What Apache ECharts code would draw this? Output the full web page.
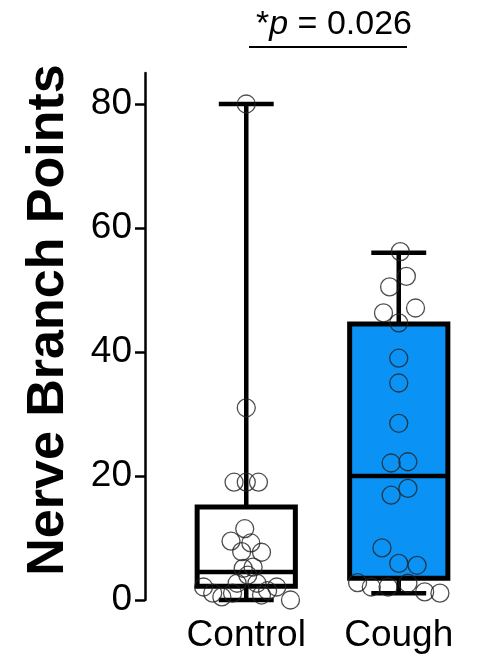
<!DOCTYPE html>
<html lang='en'>
<head>
  <meta charset='UTF-8'>
  <title>Nerve Branch Points</title>
  <script src="https://cdn.jsdelivr.net/npm/echarts@6/dist/echarts.min.js"></script>
  <style>
    html, body { margin: 0; padding: 0; background: #fff; }
  </style>
</head>
<body>
<div id="main" style="width: 482px; height: 663px;"></div>
<script>
  const groups = ['Control', 'Cough']
  // [min, Q1, median, Q3, max]
  const controlBox = [0, 2.2, 4.5, 15, 80]
  const coughBox = [1.1, 3.5, 20, 44.5, 56]
  const boxColors = ['#ffffff', '#0a93f5']

  // individual points and their horizontal jitter (in category widths)
  const controlPoints = [80, 31, 19, 19, 19, 11.5, 9.5, 9.2, 7.8, 7.7, 5.1, 5.3, 4, 2.7, 2.7, 2.1, 1.1, 0.5, 1.1, 0.8, 1.5, 2.1, 0]
  const controlJitter = [0, 0, -0.08, 0, 0.08, -0.01, -0.1, 0.03, -0.03, 0.1, -0.02, 0.045, 0.01, -0.06, 0.07, -0.28, -0.22, -0.16, -0.09, 0.1, 0.14, 0.2, 0.29]
  const coughPoints = [56.2, 52.2, 50.5, 47.1, 46.3, 44.7, 39, 35, 28.5, 22.1, 22.3, 16.9, 18, 8.4, 5.9, 5.6, 2.8, 2.1, 2.1, 2.7, 1.3, 1.1]
  const coughJitter = [0.01, 0.05, -0.06, 0.11, -0.1, 0, 0, 0, 0, -0.05, 0.06, -0.05, 0.06, -0.11, 0, 0.12, -0.27, -0.18, -0.07, 0.06, 0.17, 0.27]

  const yTicks = [0, 20, 40, 60, 80]
  const yTitle = 'Nerve Branch Points'
  const pText = '= 0.026'

  const font = 'Liberation Sans, Arial, Helvetica, sans-serif'

  const boxData = [controlBox, coughBox].map((b, i) => [i, ...b])
  const pointData = [
    ...controlPoints.map((v, i) => [0 + controlJitter[i], v]),
    ...coughPoints.map((v, i) => [1 + coughJitter[i], v])
  ]

  function renderBox(params, api) {
    const idx = api.value(0)
    const band = api.size([1, 0])[0]
    const half = band * 0.322
    const cap = band * 0.18
    const pMin = api.coord([idx, api.value(1)])
    const pQ1 = api.coord([idx, api.value(2)])
    const pMed = api.coord([idx, api.value(3)])
    const pQ3 = api.coord([idx, api.value(4)])
    const pMax = api.coord([idx, api.value(5)])
    const x = pMed[0]
    const line = { stroke: '#000', lineWidth: 4.5 }
    return {
      type: 'group',
      children: [
        { type: 'line', shape: { x1: x, y1: pMax[1], x2: x, y2: pQ3[1] }, style: line },
        { type: 'line', shape: { x1: x, y1: pQ1[1], x2: x, y2: pMin[1] }, style: line },
        { type: 'line', shape: { x1: x - cap, y1: pMax[1], x2: x + cap, y2: pMax[1] }, style: line },
        { type: 'line', shape: { x1: x - cap, y1: pMin[1], x2: x + cap, y2: pMin[1] }, style: line },
        {
          type: 'rect',
          shape: { x: x - half, y: pQ3[1], width: half * 2, height: pQ1[1] - pQ3[1] },
          style: { fill: boxColors[idx], stroke: '#000', lineWidth: 5 }
        },
        { type: 'line', shape: { x1: x - half, y1: pMed[1], x2: x + half, y2: pMed[1] }, style: line }
      ]
    }
  }

  var myChart = echarts.init(document.getElementById('main'))
  var option = {
    animation: false,
    title: {
      text: '{s|*}{i|p}{s| ' + pText + '}',
      left: 251,
      top: 3,
      textStyle: {
        rich: {
          s: { fontSize: 34, fontWeight: 'normal', fontFamily: font, color: '#000' },
          i: { fontSize: 34, fontWeight: 'normal', fontFamily: font, fontStyle: 'italic', color: '#000' }
        }
      }
    },
    graphic: [
      {
        type: 'line',
        shape: { x1: 249, y1: 47, x2: 407, y2: 47 },
        style: { stroke: '#000', lineWidth: 2 }
      },
      {
        type: 'text',
        x: 49,
        y: 320,
        rotation: Math.PI / 2,
        style: {
          text: yTitle,
          fontSize: 52,
          fontWeight: 'bold',
          fontFamily: font,
          fill: '#000',
          align: 'center',
          verticalAlign: 'middle'
        }
      }
    ],
    grid: { left: 170, right: 7, top: 73, bottom: 63 },
    xAxis: [
      {
        type: 'category',
        data: groups,
        axisLine: { show: false },
        axisTick: { show: false },
        axisLabel: { interval: 0, fontSize: 37, fontFamily: font, color: '#000', margin: 17 }
      },
      { type: 'value', min: -0.5, max: 1.5, show: false }
    ],
    yAxis: {
      type: 'value',
      min: 0,
      max: 85,
      offset: 25,
      axisLine: { show: true, onZero: false, lineStyle: { color: '#000', width: 2.5 } },
      axisTick: { show: true, length: 10, customValues: yTicks, lineStyle: { color: '#000', width: 2.5 } },
      axisLabel: { customValues: yTicks, fontSize: 37, fontFamily: font, color: '#000', margin: 13 },
      splitLine: { show: false }
    },
    series: [
      {
        type: 'custom',
        xAxisIndex: 0,
        renderItem: renderBox,
        encode: { x: 0, y: [1, 2, 3, 4, 5] },
        data: boxData,
        z: 2
      },
      {
        type: 'scatter',
        xAxisIndex: 1,
        symbol: 'circle',
        symbolSize: 18,
        itemStyle: { color: 'rgba(0,0,0,0)', borderColor: '#222', borderWidth: 1.3 },
        data: pointData,
        z: 3
      }
    ]
  }
  myChart.setOption(option)
</script>
</body>
</html>
